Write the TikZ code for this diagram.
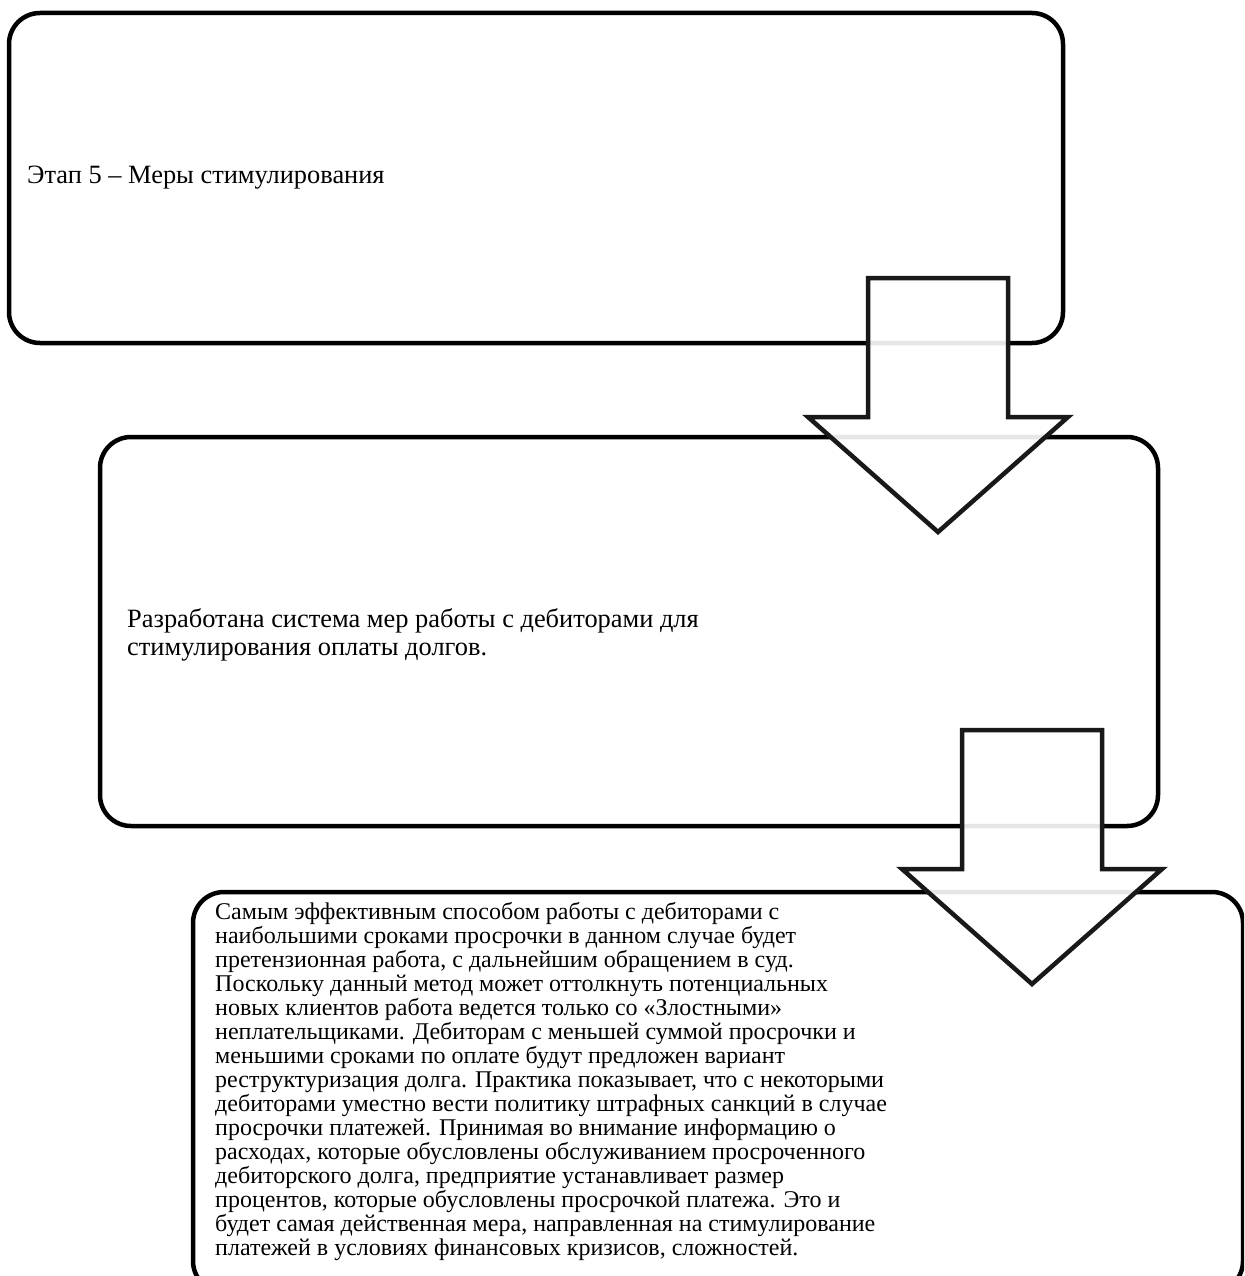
\documentclass[tikz,border=0pt]{standalone}
\usepackage{fontspec}
\setmainfont{Liberation Serif}
\begin{document}
\begin{tikzpicture}[x=1pt,y=-1pt,
  stagebox/.style={draw=black, line width=4.5pt, rounded corners=31pt, fill=white, inner sep=0pt, outer sep=0pt},
  bigtext/.style={font=\fontsize{26.4}{28}\selectfont, inner sep=0pt, align=left},
  smalltext/.style={font=\fontsize{24}{24}\selectfont, inner sep=0pt, align=left},
  blockarrow/.style={draw=black!90, line width=4.5pt, line join=miter, fill=white, fill opacity=0.9},
  downarrow/.pic={
    \draw[blockarrow] (-70,0) -- (70,0) -- (70,139) -- (130,139) -- (0,254) -- (-130,139) -- (-70,139) -- cycle;
  }]
\useasboundingbox (0,0) rectangle (1244,1276);
\clip (0,0) rectangle (1244,1276);
% stage boxes
\node[stagebox, minimum width=1054pt, minimum height=330pt] (box1) at (536,178) {};
\node[stagebox, minimum width=1058pt, minimum height=389pt] (box2) at (629,631.5) {};
\node[stagebox, minimum width=1050pt, minimum height=400pt] (box3) at (718,1092) {};
% texts
\node[bigtext, anchor=west] (t1) at ([xshift=18pt]box1.west) {Этап 5 – Меры стимулирования};
\node[bigtext, anchor=north west] (t2) at (127,608.5) {Разработана система мер работы с дебиторами для\\стимулирования оплаты долгов.};
\node[smalltext, anchor=north west] (t3) at (215,902) {Самым эффективным способом работы с дебиторами с\\наибольшими сроками просрочки в данном случае будет\\претензионная работа, с дальнейшим обращением в суд.\\Поскольку данный метод может оттолкнуть потенциальных\\новых клиентов работа ведется только со «Злостными»\\неплательщиками. Дебиторам с меньшей суммой просрочки и\\меньшими сроками по оплате будут предложен вариант\\реструктуризация долга. Практика показывает, что с некоторыми\\дебиторами уместно вести политику штрафных санкций в случае\\просрочки платежей. Принимая во внимание информацию о\\расходах, которые обусловлены обслуживанием просроченного\\дебиторского долга, предприятие устанавливает размер\\процентов, которые обусловлены просрочкой платежа. Это и\\будет самая действенная мера, направленная на стимулирование\\платежей в условиях финансовых кризисов, сложностей.};
% block arrows
\coordinate (a1) at (938,278);
\coordinate (a2) at (1032,730);
\pic at (a1) {downarrow};
\pic at (a2) {downarrow};
\end{tikzpicture}
\end{document}
